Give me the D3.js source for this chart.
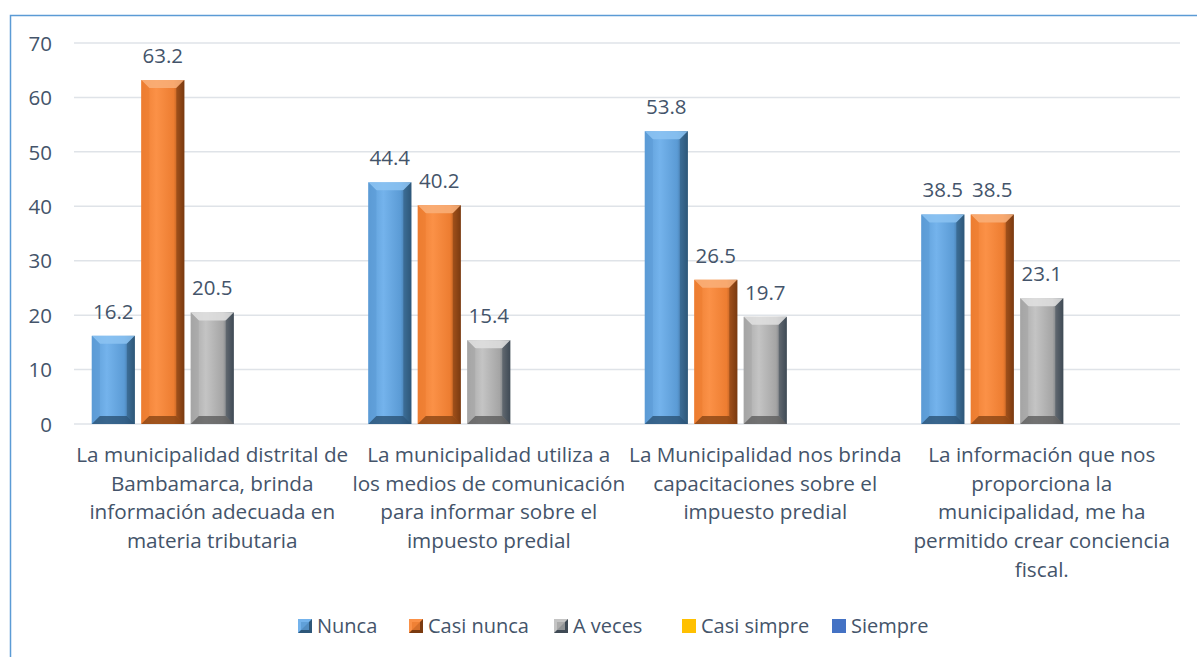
<!DOCTYPE html>
<html><head><meta charset="utf-8">
<script src="https://cdn.jsdelivr.net/npm/d3@7"></script>
<style>html,body{margin:0;padding:0;background:#fff;}svg{display:block;}</style>
</head><body>
<svg id="chart" width="1197" height="657"></svg>
<script>
const categories = [
  ["La municipalidad distrital de","Bambamarca, brinda","información adecuada en","materia tributaria"],
  ["La municipalidad utiliza a","los medios de comunicación","para informar sobre el","impuesto predial"],
  ["La Municipalidad nos brinda","capacitaciones sobre el","impuesto predial"],
  ["La información que nos","proporciona la","municipalidad, me ha","permitido crear conciencia","fiscal."]
];
const seriesNames = ["Nunca","Casi nunca","A veces","Casi simpre","Siempre"];
const nunca = [16.2, 44.4, 53.8, 38.5];
const casiNunca = [63.2, 40.2, 26.5, 38.5];
const aVeces = [20.5, 15.4, 19.7, 23.1];
const casiSimpre = [null, null, null, null];
const siempre = [null, null, null, null];
const yTicks = [0,10,20,30,40,50,60,70];

const seriesValues = [nunca, casiNunca, aVeces, casiSimpre, siempre];
const colors = {
  "Nunca": {base:"#5b9bd5", light:"#74b3ec", dark:"#2e5779", top:"#8cc3f2", bottom:"#2b5275"},
  "Casi nunca": {base:"#ed7d31", light:"#fb9147", dark:"#7a3a10", top:"#f9b07a", bottom:"#8a4514"},
  "A veces": {base:"#a5a5a5", light:"#c4c4c4", dark:"#3f4a55", top:"#e0e0e0", bottom:"#5e5e5e"},
  "Casi simpre": {base:"#ffc000", light:"#ffd24d", dark:"#c79200", top:"#ffe080", bottom:"#b08000"},
  "Siempre": {base:"#4472c4", light:"#5b8ad8", dark:"#2a4a85", top:"#7fa3e0", bottom:"#2a4a85"}
};
const textColor = "#44546a";
const font = "'Open Sans', sans-serif";
const fs = 20;

const svg = d3.select("#chart");
const defs = svg.append("defs");
seriesNames.forEach((s,i)=>{
  const c = colors[s];
  const g = defs.append("linearGradient").attr("id","g"+i).attr("x1","0").attr("x2","1").attr("y1","0").attr("y2","0");
  g.append("stop").attr("offset","0").attr("stop-color",c.base);
  g.append("stop").attr("offset","0.35").attr("stop-color",c.light);
  g.append("stop").attr("offset","0.75").attr("stop-color",c.base);
  g.append("stop").attr("offset","1").attr("stop-color",c.dark);
});

// frame
svg.append("rect").attr("x",10.5).attr("y",15.5).attr("width",1200).attr("height",700)
  .attr("fill","none").attr("stroke","#5b9bd5").attr("stroke-width",1.5);

const mLeft = 74, mRight = 1180, mTop = 43, mBottom = 424;
const x0 = d3.scaleBand().domain(d3.range(categories.length)).range([mLeft,mRight]).padding(0);
const x1 = d3.scaleBand().domain(seriesNames).range([0,x0.bandwidth()]).paddingInner(0.13).paddingOuter(0.36);
const y = d3.scaleLinear().domain([0,70]).range([mBottom,mTop]);

// grid
svg.append("g").selectAll("line").data(yTicks).join("line")
  .attr("x1",mLeft).attr("x2",mRight).attr("y1",d=>y(d)).attr("y2",d=>y(d))
  .attr("stroke","#dfe3e8").attr("stroke-width",1.5);

// y axis labels
const yAxis = d3.axisLeft(y).tickValues(yTicks).tickSize(0).tickPadding(0).tickFormat(d3.format("d"));
const ya = svg.append("g").attr("transform",`translate(${52},0)`).call(yAxis);
ya.select(".domain").remove();
ya.selectAll("text").attr("font-family",font).attr("font-size",fs+0.5).attr("fill",textColor).attr("dy","0.35em");

// bars
const gGroups = svg.append("g").selectAll("g").data(categories.map((c,i)=>i)).join("g")
  .attr("transform",i=>`translate(${x0(i)},0)`);
gGroups.each(function(ci){
  const g = d3.select(this);
  seriesNames.forEach((s,si)=>{
    const v = seriesValues[si][ci];
    if (v==null) return;
    const bx = x1(s), w = x1.bandwidth(), by = y(v), h = y(0)-y(v);
    const c = colors[s];
    const b = Math.min(8, h/2);
    g.append("rect").attr("x",bx).attr("y",by).attr("width",w).attr("height",h).attr("fill",`url(#g${si})`);
    g.append("polygon").attr("points",[[bx,by],[bx+w,by],[bx+w-b,by+b],[bx+b,by+b]].map(p=>p.join(",")).join(" "))
      .attr("fill",c.top).attr("opacity",0.85);
    g.append("polygon").attr("points",[[bx+w,by],[bx+w,by+h],[bx+w-b,by+h-b],[bx+w-b,by+b]].map(p=>p.join(",")).join(" "))
      .attr("fill",c.dark).attr("opacity",0.55);
    g.append("polygon").attr("points",[[bx,by],[bx+b,by+b],[bx+b,by+h-b],[bx,by+h]].map(p=>p.join(",")).join(" "))
      .attr("fill",c.base).attr("opacity",0.6);
    g.append("polygon").attr("points",[[bx,by+h],[bx+b,by+h-b],[bx+w-b,by+h-b],[bx+w,by+h]].map(p=>p.join(",")).join(" "))
      .attr("fill",c.bottom).attr("opacity",0.8);
    g.append("text").attr("x",bx+w/2).attr("y",by-17).attr("text-anchor","middle")
      .attr("font-family",font).attr("font-size",fs+0.5).attr("fill",textColor).text(d3.format(".1f")(v));
  });
});

// category labels
categories.forEach((lines,ci)=>{
  const t = svg.append("text").attr("x",x0(ci)+x0.bandwidth()/2).attr("y",462)
    .attr("text-anchor","middle").attr("font-family",font).attr("font-size",fs+0.7).attr("fill",textColor);
  lines.forEach((l,li)=>t.append("tspan").attr("x",x0(ci)+x0.bandwidth()/2).attr("dy",li===0?0:28.7).text(l));
});

// legend
const legendX = [298,409,554,682,832];
const lg = svg.append("g");
seriesNames.forEach((s,i)=>{
  const c = colors[s];
  const mx = legendX[i], my = 619;
  if (i<3){
    lg.append("rect").attr("x",mx).attr("y",my).attr("width",14).attr("height",14).attr("fill",c.dark);
    lg.append("polygon").attr("points",`${mx},${my} ${mx+14},${my} ${mx},${my+14}`).attr("fill",c.light);
    lg.append("rect").attr("x",mx+3).attr("y",my+3).attr("width",8).attr("height",8).attr("fill",c.base).attr("opacity",0.8);
  } else {
    lg.append("rect").attr("x",mx).attr("y",my).attr("width",14).attr("height",14).attr("fill",c.base);
  }
  lg.append("text").attr("x",mx+19).attr("y",my+7).attr("dy","0.35em")
    .attr("font-family",font).attr("font-size",fs).attr("fill",textColor).text(s);
});
</script>
</body></html>
